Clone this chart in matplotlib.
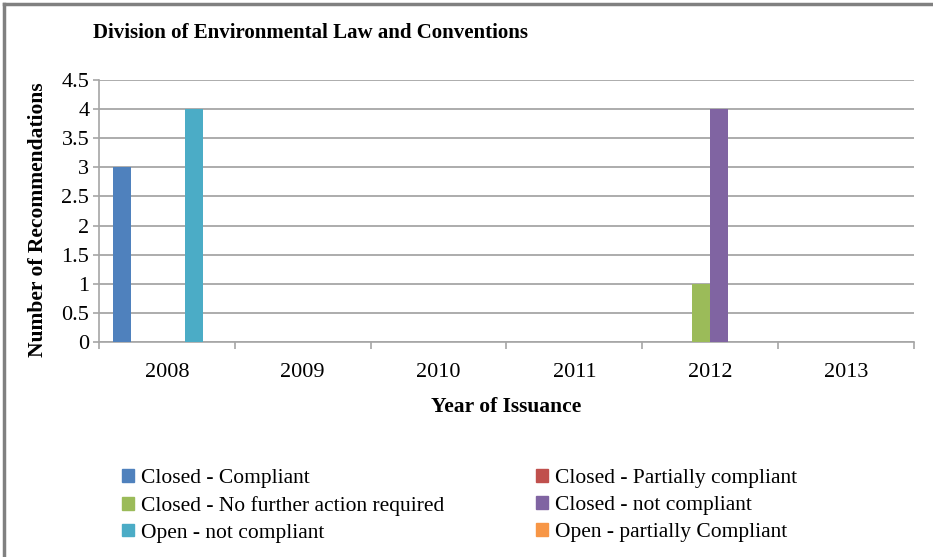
import matplotlib.pyplot as plt
import numpy as np
from matplotlib.lines import Line2D
from matplotlib.patches import Patch

plt.rcParams['font.family'] = ['Liberation Serif', 'DejaVu Serif']

# Data
years = ['2008', '2009', '2010', '2011', '2012', '2013']
series_names = ['Closed - Compliant', 'Closed - Partially compliant',
                'Closed - No further action required', 'Closed - not compliant',
                'Open - not compliant', 'Open - partially Compliant']
closed_compliant = [3, 0, 0, 0, 0, 0]
closed_partial = [0, 0, 0, 0, 0, 0]
closed_no_action = [0, 0, 0, 0, 1, 0]
closed_not_compliant = [0, 0, 0, 0, 4, 0]
open_not_compliant = [4, 0, 0, 0, 0, 0]
open_partial = [0, 0, 0, 0, 0, 0]
colors = ['#4F81BD', '#C0504D', '#9BBB59', '#8064A2', '#4BACC6', '#F79646']

values = [closed_compliant, closed_partial, closed_no_action,
          closed_not_compliant, open_not_compliant, open_partial]

fig = plt.figure(figsize=(9.33, 5.57), dpi=100)
ax = fig.add_axes([0.1061, 0.386, 0.8735, 0.4704])

# Excel-like clustered bars, gap width 150%
n = len(values)
bar_w = 1.0 / (n + 1.5)
x = np.arange(len(years))
for i, (vals, c) in enumerate(zip(values, colors)):
    pos = x - 0.5 + 0.75 * bar_w + i * bar_w + bar_w / 2
    ax.bar(pos, vals, width=bar_w, color=c, zorder=3)

ax.set_xlim(-0.5, len(years) - 0.5)
ax.set_ylim(0, 4.5)
ax.set_yticks(np.arange(0, 4.51, 0.5))
ax.set_yticklabels(['0', '0.5', '1', '1.5', '2', '2.5', '3', '3.5', '4', '4.5'], fontsize=16)
ax.yaxis.grid(True, color='#A6A6A6', linewidth=1.3, zorder=0)
ax.tick_params(axis='y', length=4, color='#A6A6A6', width=1.2, pad=3)

# category boundary ticks on x axis
ax.set_xticks(np.arange(-0.5, len(years)), minor=False)
ax.set_xticklabels([])
ax.set_xticks(x, minor=True)
ax.set_xticklabels(years, minor=True, fontsize=16)
ax.tick_params(axis='x', which='major', length=5, color='#A6A6A6', width=1.2)
ax.tick_params(axis='x', which='minor', length=0, pad=15)

for side in ['top', 'right']:
    ax.spines[side].set_visible(False)
for side in ['left', 'bottom']:
    ax.spines[side].set_color('#A6A6A6')
    ax.spines[side].set_linewidth(1.2)

ax.set_xlabel('Year of Issuance', fontsize=15.5, fontweight='bold', labelpad=11)
ax.set_ylabel('Number of Recommendations', fontsize=15.5, fontweight='bold')
ax.yaxis.set_label_coords(-0.062, 0.465)

fig.text(0.0997, 0.941, 'Division of Environmental Law and Conventions',
         fontsize=15, fontweight='bold', va='center', ha='left')

# legend, laid out row-wise like the original
handles = [Patch(color=c) for c in colors]
order = [0, 2, 4, 1, 3, 5]
fig.legend([handles[i] for i in order], [series_names[i] for i in order],
           ncol=2, loc='upper left', bbox_to_anchor=(0.131, 0.158), frameon=False,
           fontsize=15.5, handlelength=0.55, handleheight=0.55, handletextpad=0.3,
           columnspacing=4.3, labelspacing=0.36, borderaxespad=0, borderpad=0)

# outer border (top and left only)
fig.add_artist(Line2D([0.004, 1.0], [0.992, 0.992], color='#808080', linewidth=2.5,
                      transform=fig.transFigure))
fig.add_artist(Line2D([0.0043, 0.0043], [0.0, 0.992], color='#808080', linewidth=2.5,
                      transform=fig.transFigure))

fig.savefig('out.png', dpi=100)
